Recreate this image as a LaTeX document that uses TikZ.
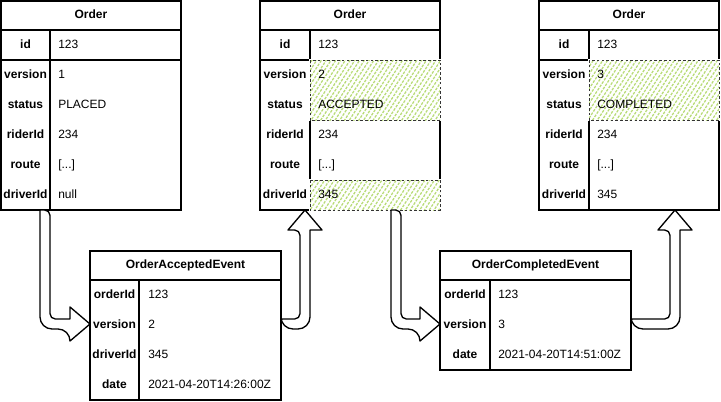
\documentclass[tikz,border=0pt]{standalone}
\usepackage{fontspec}
\setmainfont{Liberation Sans}
\usetikzlibrary{calc,patterns.meta}
\definecolor{hatch}{HTML}{B9DC78}
\begin{document}
\begin{tikzpicture}[x=0.75pt,y=-0.75pt,
  frame/.style={draw, fill=white, line width=1pt, inner sep=0, outer sep=0, anchor=north west},
  grid/.style={line width=1pt},
  txt/.style={inner sep=0, text height=6.4pt, text depth=0pt, font=\fontsize{9}{11}\selectfont},
  key/.style={txt, font=\bfseries\fontsize{9}{11}\selectfont},
  val/.style={txt, anchor=west},
  ttl/.style={txt, font=\bfseries\fontsize{9}{11}\selectfont},
  hl/.style={preaction={draw=white, line width=1.6pt, fill=white},
    pattern={Lines[angle=57,distance=3pt,line width=0.95pt]}, pattern color=hatch,
    draw=black!80, dash pattern=on 2pt off 1.6pt, line width=0.75pt},
  flex/.style={draw, fill=white, line width=1pt, line join=round}
]
\useasboundingbox (0,0) rectangle (721,401);

% ---------- order tables (frames) ----------
\node[frame, minimum width=135pt, minimum height=156.75pt] (o1) at (1,1) {};
\draw[grid] (1,30) -- (181,30) (1,60) -- (181,60) (50,30) -- (50,210);
\node[frame, minimum width=135pt, minimum height=156.75pt] (o2) at (260,1) {};
\draw[grid] (260,30) -- (440,30) (260,60) -- (440,60) (310,30) -- (310,210);
\node[frame, minimum width=135pt, minimum height=156.75pt] (o3) at (539,1) {};
\draw[grid] (539,30) -- (719,30) (539,60) -- (719,60) (589,30) -- (589,210);

% ---------- event tables (frames) ----------
\node[frame, minimum width=143.25pt, minimum height=111.75pt] (e1) at (90,251) {};
\draw[grid] (90,280) -- (281,280) (139,280) -- (139,400);
\node[frame, minimum width=143.25pt, minimum height=89.25pt] (e2) at (440,251) {};
\draw[grid] (440,280) -- (631,280) (490,280) -- (490,370);

% ---------- highlighted cells ----------
\draw[hl] (310,60) rectangle (440,120);
\draw[hl] (310,180) rectangle (440,210);
\draw[hl] (589,60) rectangle (719,120);

% ---------- texts: order 1 ----------
\node[ttl] (o1t) at (91,14) {Order};
\node[key] (o1k1) at (25.5,44) {id};       \node[val] (o1v1) at (58,44) {123};
\node[key] (o1k2) at (25.5,74) {version};  \node[val] (o1v2) at (58,74) {1};
\node[key] (o1k3) at (25.5,104) {status};  \node[val] (o1v3) at (58,104) {PLACED};
\node[key] (o1k4) at (25.5,134) {riderId}; \node[val] (o1v4) at (58,134) {234};
\node[key] (o1k5) at (25.5,164) {route};   \node[val] (o1v5) at (58,164) {[...]};
\node[key] (o1k6) at (25.5,194) {driverId};\node[val] (o1v6) at (58,194) {null};

% ---------- texts: order 2 ----------
\node[ttl] (o2t) at (350,14) {Order};
\node[key] (o2k1) at (285,44) {id};       \node[val] (o2v1) at (318,44) {123};
\node[key] (o2k2) at (285,74) {version};  \node[val] (o2v2) at (318,74) {2};
\node[key] (o2k3) at (285,104) {status};  \node[val] (o2v3) at (318,104) {ACCEPTED};
\node[key] (o2k4) at (285,134) {riderId}; \node[val] (o2v4) at (318,134) {234};
\node[key] (o2k5) at (285,164) {route};   \node[val] (o2v5) at (318,164) {[...]};
\node[key] (o2k6) at (285,194) {driverId};\node[val] (o2v6) at (318,194) {345};

% ---------- texts: order 3 ----------
\node[ttl] (o3t) at (629,14) {Order};
\node[key] (o3k1) at (564,44) {id};       \node[val] (o3v1) at (597,44) {123};
\node[key] (o3k2) at (564,74) {version};  \node[val] (o3v2) at (597,74) {3};
\node[key] (o3k3) at (564,104) {status};  \node[val] (o3v3) at (597,104) {COMPLETED};
\node[key] (o3k4) at (564,134) {riderId}; \node[val] (o3v4) at (597,134) {234};
\node[key] (o3k5) at (564,164) {route};   \node[val] (o3v5) at (597,164) {[...]};
\node[key] (o3k6) at (564,194) {driverId};\node[val] (o3v6) at (597,194) {345};

% ---------- texts: event 1 ----------
\node[ttl] (e1t) at (185.5,264) {OrderAcceptedEvent};
\node[key] (e1k1) at (114.5,294) {orderId};  \node[val] (e1v1) at (148,294) {123};
\node[key] (e1k2) at (114.5,324) {version};  \node[val] (e1v2) at (148,324) {2};
\node[key] (e1k3) at (114.5,354) {driverId}; \node[val] (e1v3) at (148,354) {345};
\node[key] (e1k4) at (114.5,384) {date};     \node[val] (e1v4) at (148,384) {2021-04-20T14:26:00Z};

% ---------- texts: event 2 ----------
\node[ttl] (e2t) at (535.5,264) {OrderCompletedEvent};
\node[key] (e2k1) at (465,294) {orderId};  \node[val] (e2v1) at (498,294) {123};
\node[key] (e2k2) at (465,324) {version};  \node[val] (e2v2) at (498,324) {3};
\node[key] (e2k3) at (465,354) {date};     \node[val] (e2v3) at (498,354) {2021-04-20T14:51:00Z};

% ---------- flex arrows ----------
% order 1 -> event 1
\coordinate (a1s) at ($(o1.south west)+(44,0)$);
\coordinate (a1t) at (e1.west |- e1k2);
\draw[flex] ($(a1s)+(-5,0)$) [rounded corners=9] |- ($(a1t)+(-20,5)$) [sharp corners]
  -- ++(0,12) -- (a1t) -- ++(-20,-17) -- ++(0,12) [rounded corners=4] -| ($(a1s)+(5,0)$)
  [sharp corners] -- cycle;
% event 1 -> order 2
\coordinate (a2s) at (e1.east |- e1k2);
\coordinate (a2t) at ($(o2.south west)+(45,0)$);
\draw[flex] ($(a2s)+(0,-5)$) [rounded corners=4] -| ($(a2t)+(-5,20)$) [sharp corners]
  -- ++(-12,0) -- (a2t) -- ++(17,20) -- ++(-12,0) [rounded corners=9] |- ($(a2s)+(0,5)$)
  [sharp corners] -- cycle;
% order 2 -> event 2
\coordinate (a3s) at ($(o2.south east)+(-44,0)$);
\coordinate (a3t) at (e2.west |- e2k2);
\draw[flex] ($(a3s)+(-5,0)$) [rounded corners=9] |- ($(a3t)+(-20,5)$) [sharp corners]
  -- ++(0,12) -- (a3t) -- ++(-20,-17) -- ++(0,12) [rounded corners=4] -| ($(a3s)+(5,0)$)
  [sharp corners] -- cycle;
% event 2 -> order 3
\coordinate (a4s) at (e2.east |- e2k2);
\coordinate (a4t) at ($(o3.south east)+(-44,0)$);
\draw[flex] ($(a4s)+(0,-5)$) [rounded corners=4] -| ($(a4t)+(-5,20)$) [sharp corners]
  -- ++(-12,0) -- (a4t) -- ++(17,20) -- ++(-12,0) [rounded corners=9] |- ($(a4s)+(0,5)$)
  [sharp corners] -- cycle;
\end{tikzpicture}
\end{document}
